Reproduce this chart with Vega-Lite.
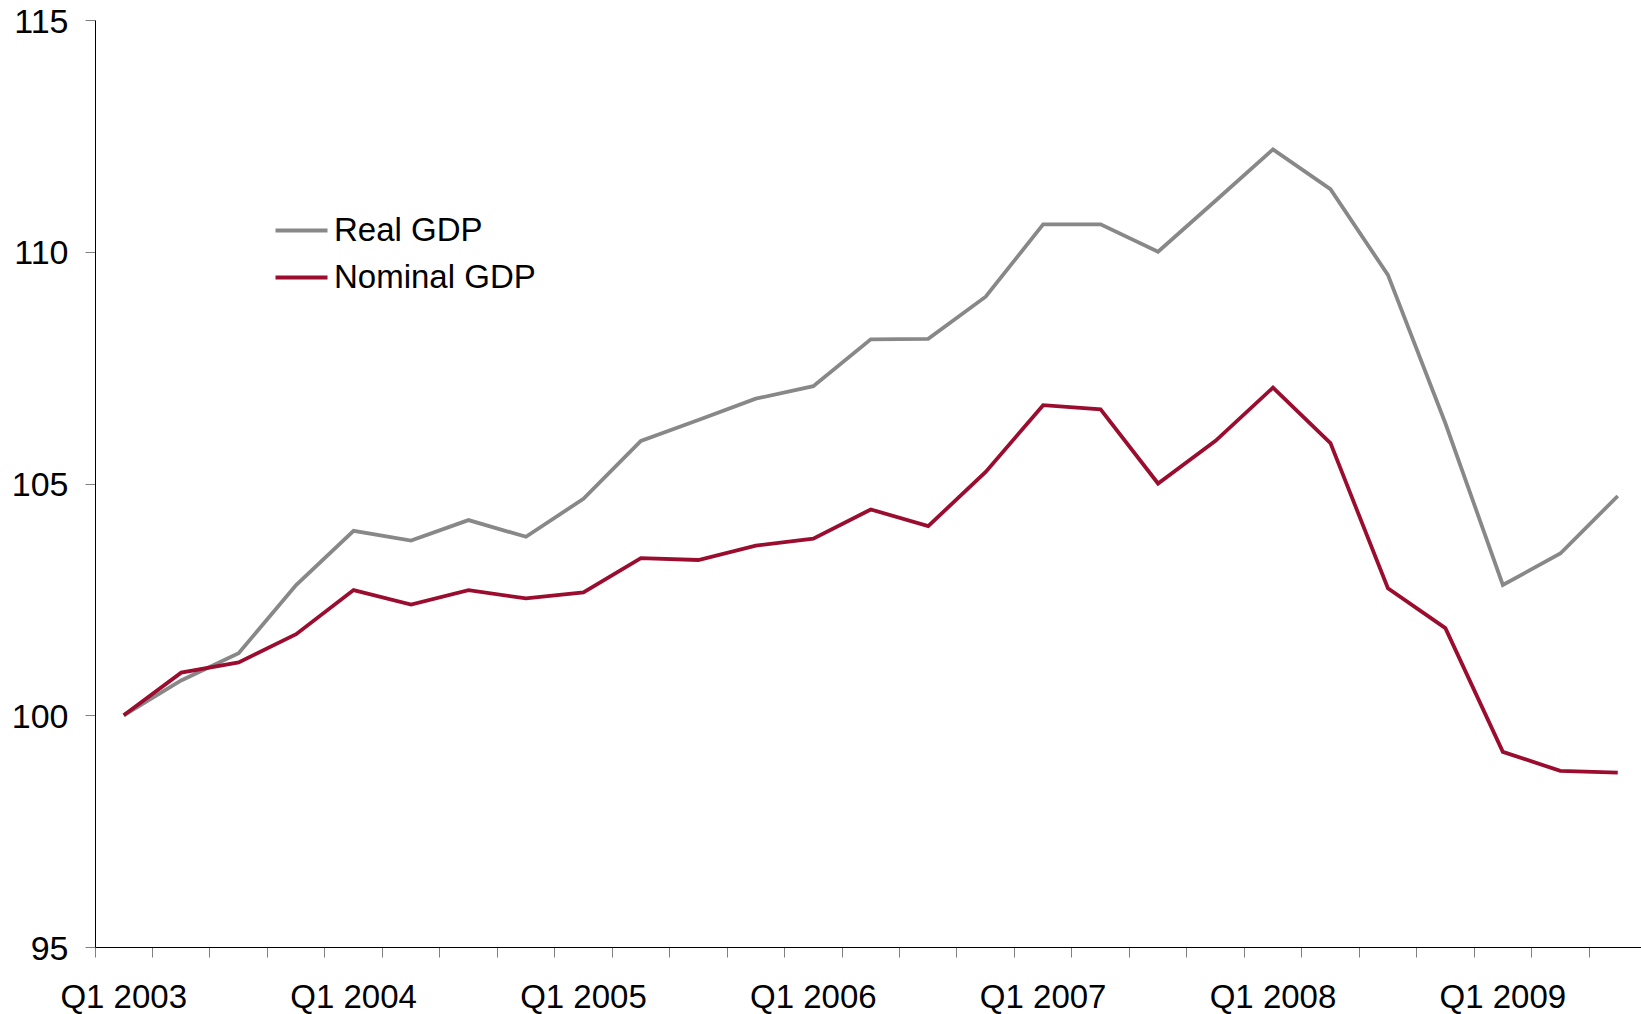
{
  "$schema": "https://vega.github.io/schema/vega-lite/v6.json",
  "width": 1546,
  "height": 927,
  "autosize": {"type": "none"},
  "padding": {"left": 95, "top": 20, "right": 0, "bottom": 67},
  "background": "white",
  "config": {
    "view": {"stroke": null},
    "font": "Liberation Sans",
    "axis": {"labelFont": "Liberation Sans", "labelColor": "#000000", "grid": false, "title": null}
  },
  "data": {
    "values": [
      {"quarter": "Q1 2003", "series": "Real GDP", "value": 100},
      {"quarter": "Q2 2003", "series": "Real GDP", "value": 100.75},
      {"quarter": "Q3 2003", "series": "Real GDP", "value": 101.34},
      {"quarter": "Q4 2003", "series": "Real GDP", "value": 102.81},
      {"quarter": "Q1 2004", "series": "Real GDP", "value": 103.98},
      {"quarter": "Q2 2004", "series": "Real GDP", "value": 103.77},
      {"quarter": "Q3 2004", "series": "Real GDP", "value": 104.21},
      {"quarter": "Q4 2004", "series": "Real GDP", "value": 103.85},
      {"quarter": "Q1 2005", "series": "Real GDP", "value": 104.67},
      {"quarter": "Q2 2005", "series": "Real GDP", "value": 105.92},
      {"quarter": "Q3 2005", "series": "Real GDP", "value": 106.37},
      {"quarter": "Q4 2005", "series": "Real GDP", "value": 106.83},
      {"quarter": "Q1 2006", "series": "Real GDP", "value": 107.10},
      {"quarter": "Q2 2006", "series": "Real GDP", "value": 108.11},
      {"quarter": "Q3 2006", "series": "Real GDP", "value": 108.12},
      {"quarter": "Q4 2006", "series": "Real GDP", "value": 109.03},
      {"quarter": "Q1 2007", "series": "Real GDP", "value": 110.59},
      {"quarter": "Q2 2007", "series": "Real GDP", "value": 110.59},
      {"quarter": "Q3 2007", "series": "Real GDP", "value": 110.00},
      {"quarter": "Q4 2007", "series": "Real GDP", "value": 111.10},
      {"quarter": "Q1 2008", "series": "Real GDP", "value": 112.21},
      {"quarter": "Q2 2008", "series": "Real GDP", "value": 111.35},
      {"quarter": "Q3 2008", "series": "Real GDP", "value": 109.50},
      {"quarter": "Q4 2008", "series": "Real GDP", "value": 106.30},
      {"quarter": "Q1 2009", "series": "Real GDP", "value": 102.81},
      {"quarter": "Q2 2009", "series": "Real GDP", "value": 103.49},
      {"quarter": "Q3 2009", "series": "Real GDP", "value": 104.73},
      {"quarter": "Q1 2003", "series": "Nominal GDP", "value": 100},
      {"quarter": "Q2 2003", "series": "Nominal GDP", "value": 100.92},
      {"quarter": "Q3 2003", "series": "Nominal GDP", "value": 101.14},
      {"quarter": "Q4 2003", "series": "Nominal GDP", "value": 101.75},
      {"quarter": "Q1 2004", "series": "Nominal GDP", "value": 102.70},
      {"quarter": "Q2 2004", "series": "Nominal GDP", "value": 102.39},
      {"quarter": "Q3 2004", "series": "Nominal GDP", "value": 102.70},
      {"quarter": "Q4 2004", "series": "Nominal GDP", "value": 102.52},
      {"quarter": "Q1 2005", "series": "Nominal GDP", "value": 102.65},
      {"quarter": "Q2 2005", "series": "Nominal GDP", "value": 103.39},
      {"quarter": "Q3 2005", "series": "Nominal GDP", "value": 103.35},
      {"quarter": "Q4 2005", "series": "Nominal GDP", "value": 103.66},
      {"quarter": "Q1 2006", "series": "Nominal GDP", "value": 103.81},
      {"quarter": "Q2 2006", "series": "Nominal GDP", "value": 104.44},
      {"quarter": "Q3 2006", "series": "Nominal GDP", "value": 104.08},
      {"quarter": "Q4 2006", "series": "Nominal GDP", "value": 105.25},
      {"quarter": "Q1 2007", "series": "Nominal GDP", "value": 106.69},
      {"quarter": "Q2 2007", "series": "Nominal GDP", "value": 106.60},
      {"quarter": "Q3 2007", "series": "Nominal GDP", "value": 105.00},
      {"quarter": "Q4 2007", "series": "Nominal GDP", "value": 105.92},
      {"quarter": "Q1 2008", "series": "Nominal GDP", "value": 107.07},
      {"quarter": "Q2 2008", "series": "Nominal GDP", "value": 105.87},
      {"quarter": "Q3 2008", "series": "Nominal GDP", "value": 102.74},
      {"quarter": "Q4 2008", "series": "Nominal GDP", "value": 101.88},
      {"quarter": "Q1 2009", "series": "Nominal GDP", "value": 99.21},
      {"quarter": "Q2 2009", "series": "Nominal GDP", "value": 98.80},
      {"quarter": "Q3 2009", "series": "Nominal GDP", "value": 98.76}
    ]
  },
  "mark": {"type": "line", "strokeWidth": 3.8, "strokeJoin": "miter", "strokeCap": "butt"},
  "encoding": {
    "x": {
      "field": "quarter",
      "type": "ordinal",
      "sort": null,
      "bandPosition": 0.5,
      "scale": {"type": "band", "range": [0, 1551.5], "paddingInner": 0, "paddingOuter": 0},
      "axis": {
        "bandPosition": 0,
        "domainColor": "#000000",
        "domainWidth": 1,
        "tickColor": "#808080",
        "tickSize": 10,
        "labelFontSize": 33,
        "labelPadding": 24,
        "labelAngle": 0,
        "labelOverlap": false,
        "labelBound": false,
        "labelFlush": false,
        "labelExpr": "slice(datum.label, 0, 2) == 'Q1' ? datum.label : ''"
      }
    },
    "y": {
      "field": "value",
      "type": "quantitative",
      "scale": {"domain": [95, 115], "zero": false, "nice": false},
      "axis": {
        "values": [95, 100, 105, 110, 115],
        "domainColor": "#000000",
        "domainWidth": 1,
        "tickColor": "#808080",
        "tickSize": 10,
        "labelFontSize": 34,
        "labelPadding": 17,
        "labelOffset": 2
      }
    },
    "color": {
      "field": "series",
      "type": "nominal",
      "sort": ["Real GDP", "Nominal GDP"],
      "scale": {"domain": ["Real GDP", "Nominal GDP"], "range": ["#888888", "#9B0D2F"]},
      "legend": {
        "title": null,
        "orient": "none",
        "legendX": 190,
        "legendY": 194,
        "padding": 0,
        "symbolType": "M-2,0H2",
        "symbolSize": 676,
        "symbolStrokeWidth": 4,
        "labelFontSize": 33,
        "labelFont": "Liberation Sans",
        "labelColor": "#000000",
        "labelOffset": 16,
        "labelLimit": 500,
        "rowPadding": 13
      }
    }
  }
}
